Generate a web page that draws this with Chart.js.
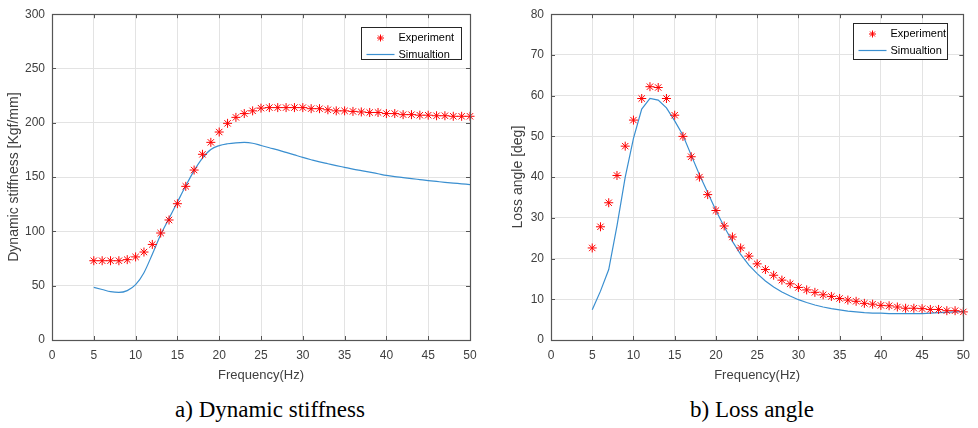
<!DOCTYPE html>
<html>
<head>
<meta charset="utf-8">
<script src="https://cdn.jsdelivr.net/npm/chart.js@4"></script>
<style>
body{margin:0;background:#fff;width:978px;height:428px;position:relative;overflow:hidden;}
.box{position:absolute;top:0;height:395px;}
.cap{position:absolute;top:396px;line-height:28px;font-family:"Liberation Serif","Times New Roman",serif;font-size:23px;color:#000;white-space:nowrap;transform:translateX(-50%);}
</style>
</head>
<body>
<div class="box" style="left:0;width:490px"><canvas id="c1"></canvas></div>
<div class="box" style="left:490px;width:488px"><canvas id="c2"></canvas></div>
<div class="cap" style="left:270px">a) Dynamic stiffness</div>
<div class="cap" style="left:752px">b) Loss angle</div>
<script>
// frequencies 5..50 Hz
const freq = [5,6,7,8,9,10,11,12,13,14,15,16,17,18,19,20,21,22,23,24,25,26,27,28,29,30,
  31,32,33,34,35,36,37,38,39,40,41,42,43,44,45,46,47,48,49,50];

const stiffExp = [73,73,73,73,74,76.5,81,88,98.5,110.5,125.5,141.5,156.5,171,182,191.5,199.5,205,208.5,211,
  213.5,214,214,214,214,214,213,213,212,211,211,210.5,210,209.5,209.5,208.5,208.5,207.5,207.5,207,
  207,206.5,206.5,206,206,206];
const stiffSim = [48.5,46.5,44.5,43.8,45.5,51,62,79,97,112,127,142,156,167.5,175.5,179,180.7,181.6,181.9,181.2,
  179.1,177,175,172.7,170.4,168.1,166,164,162.3,160.6,159,157.4,156,154.6,153.1,151.6,150.5,149.6,148.6,147.7,
  146.8,146,145.2,144.5,143.8,143.1];

const lossExp = [22.6,27.8,33.7,40.4,47.6,54,59.3,62.2,62,59.3,55.2,50,45,40,35.7,31.8,28,25.3,22.6,20.6,
  18.7,17.3,15.9,14.7,13.8,12.9,12.3,11.7,11.1,10.7,10.2,9.8,9.5,9.0,8.8,8.5,8.4,8.1,7.8,7.8,
  7.7,7.5,7.5,7.2,7.2,6.9];
const lossSim = [7.4,12,17.3,28,40,49.5,56.7,59.3,58.9,57,53.8,50.3,45.4,40.6,36.2,31.8,27.8,24.2,21,18.4,
  16.3,14.5,13,11.8,10.8,9.9,9.2,8.6,8.1,7.7,7.4,7.1,6.9,6.7,6.6,6.6,6.5,6.5,6.5,6.5,
  6.5,6.6,6.7,6.8,6.9,7.0];

const xTicks = [0,5,10,15,20,25,30,35,40,45,50];
const stiffTicks = [0,50,100,150,200,250,300];
const lossTicks = [0,10,20,30,40,50,60,70,80];

const seriesNames = ['Experiment', 'Simualtion'];
const expColor = '#ff0000';
const simColor = '#3a8fd0';
const fontFamily = '"Liberation Sans", Arial, sans-serif';
const axisFont = {family: fontFamily, size: 12};

function pts(ys) {
  return freq.map((f, i) => ({x: f, y: ys[i]}));
}

function drawStar(ctx, cx, cy, r) {
  const d = r * Math.SQRT1_2;
  ctx.beginPath();
  ctx.moveTo(cx - r, cy); ctx.lineTo(cx + r, cy);
  ctx.moveTo(cx, cy - r); ctx.lineTo(cx, cy + r);
  ctx.moveTo(cx - d, cy - d); ctx.lineTo(cx + d, cy + d);
  ctx.moveTo(cx - d, cy + d); ctx.lineTo(cx + d, cy - d);
  ctx.stroke();
}

// box, inward ticks and matlab-ish legend
const framePlugin = {
  id: 'frame',
  afterDatasetsDraw(chart) {
    const {ctx, chartArea: a, scales} = chart;
    const sx = scales.x, sy = scales.y;
    ctx.save();
    ctx.strokeStyle = '#555';
    ctx.lineWidth = 1;
    ctx.beginPath();
    sx.ticks.forEach(t => {
      const p = Math.round(sx.getPixelForValue(t.value)) + 0.5;
      ctx.moveTo(p, a.bottom); ctx.lineTo(p, a.bottom - 4);
      ctx.moveTo(p, a.top); ctx.lineTo(p, a.top + 4);
    });
    sy.ticks.forEach(t => {
      const p = Math.round(sy.getPixelForValue(t.value)) + 0.5;
      ctx.moveTo(a.left, p); ctx.lineTo(a.left + 4, p);
      ctx.moveTo(a.right, p); ctx.lineTo(a.right - 4, p);
    });
    ctx.stroke();
    ctx.lineWidth = 1.2;
    ctx.strokeRect(Math.round(a.left) + 0.5, Math.round(a.top) + 0.5, Math.round(a.width), Math.round(a.height));
    ctx.restore();
  },
  afterDraw(chart, args, opts) {
    const {ctx, chartArea: a} = chart;
    const L = opts.legend;
    const bx = Math.round(a.right - L.gap - L.w) + 0.5;
    const by = Math.round(a.top + L.top) + 0.5;
    ctx.save();
    ctx.fillStyle = '#fff';
    ctx.fillRect(bx, by, L.w, L.h);
    ctx.strokeStyle = '#262626';
    ctx.lineWidth = 1;
    ctx.strokeRect(bx, by, L.w, L.h);
    const r1 = by + 10.5, r2 = by + 27;
    ctx.strokeStyle = expColor;
    ctx.lineWidth = 1;
    drawStar(ctx, bx + 19, r1, 3.5);
    ctx.strokeStyle = simColor;
    ctx.lineWidth = 1.2;
    ctx.beginPath();
    ctx.moveTo(bx + 5, r2); ctx.lineTo(bx + 33, r2);
    ctx.stroke();
    ctx.fillStyle = '#000';
    ctx.font = '11px ' + fontFamily;
    ctx.textBaseline = 'middle';
    ctx.fillText(seriesNames[0], bx + 37, r1);
    ctx.fillText(seriesNames[1], bx + 37, r2);
    ctx.restore();
  }
};

function makeChart(id, expData, simData, yTicks, yTitle, cfg) {
  const ctx = document.getElementById(id).getContext('2d');
  return new Chart(ctx, {
    type: 'scatter',
    data: {
      datasets: [{
        label: seriesNames[0],
        data: pts(expData),
        showLine: false,
        pointStyle: 'star',
        pointRadius: 4.5,
        pointBorderColor: expColor,
        pointBackgroundColor: expColor,
        pointBorderWidth: 1,
        clip: false
      }, {
        label: seriesNames[1],
        data: pts(simData),
        showLine: true,
        borderColor: simColor,
        borderWidth: 1.2,
        pointRadius: 0,
        tension: cfg.tension,
        cubicInterpolationMode: cfg.tension > 0 ? 'monotone' : 'default',
        fill: false
      }]
    },
    options: {
      responsive: true,
      maintainAspectRatio: false,
      animation: false,
      layout: {padding: {top: 11, right: cfg.padRight, bottom: 0, left: 0}},
      plugins: {
        legend: {display: false},
        tooltip: {enabled: false},
        frame: {legend: cfg.legend}
      },
      scales: {
        x: {
          type: 'linear',
          min: xTicks[0],
          max: xTicks[xTicks.length - 1],
          afterBuildTicks: s => { s.ticks = xTicks.map(v => ({value: v})); },
          afterFit: s => { s.height = 55; },
          grid: {color: '#e3e3e3', drawTicks: false},
          border: {display: false},
          ticks: {color: '#404040', font: axisFont, padding: 8, maxRotation: 0},
          title: {display: true, text: 'Frequency(Hz)', color: '#404040',
            font: {family: fontFamily, size: 13}, padding: {top: 0, bottom: 12}}
        },
        y: {
          type: 'linear',
          min: yTicks[0],
          max: yTicks[yTicks.length - 1],
          afterBuildTicks: s => { s.ticks = yTicks.map(v => ({value: v})); },
          afterFit: s => { s.width = cfg.yWidth; },
          grid: {color: '#e3e3e3', drawTicks: false},
          border: {display: false},
          ticks: {color: '#404040', font: axisFont, padding: 7},
          title: {display: true, text: yTitle, color: '#404040',
            font: {family: fontFamily, size: 14}, padding: {top: cfg.titlePad, bottom: 0}}
        }
      }
    },
    plugins: [framePlugin]
  });
}

makeChart('c1', stiffExp, stiffSim, stiffTicks, 'Dynamic stiffness [Kgf/mm]',
  {padRight: 20, yWidth: 52, titlePad: 6, tension: 0.4, legend: {gap: 9, top: 13, w: 100, h: 32}});
makeChart('c2', lossExp, lossSim, lossTicks, 'Loss angle [deg]',
  {padRight: 10, yWidth: 61, titlePad: 20, tension: 0, legend: {gap: 16, top: 9, w: 94, h: 36}});
</script>
</body>
</html>
